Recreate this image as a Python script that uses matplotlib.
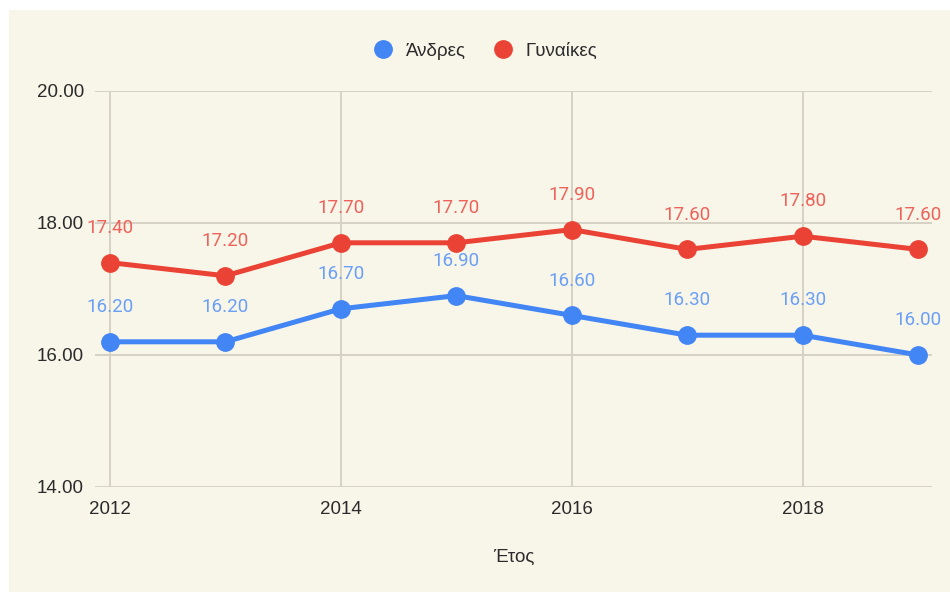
import matplotlib

matplotlib.use("Agg")
import matplotlib.pyplot as plt
from matplotlib.lines import Line2D
from matplotlib.patches import Rectangle

years = [2012, 2013, 2014, 2015, 2016, 2017, 2018, 2019]
men = [16.2, 16.2, 16.7, 16.9, 16.6, 16.3, 16.3, 16.0]
women = [17.4, 17.2, 17.7, 17.7, 17.9, 17.6, 17.8, 17.6]
series_names = ["Άνδρες", "Γυναίκες"]
x_ticks = [2012, 2014, 2016, 2018]
y_ticks = [14, 16, 18, 20]
x_title = "Έτος"

bg = "#f8f5e9"
blue, red = "#4285f4", "#ea4335"
blue_lbl, red_lbl = "#6a9ff6", "#ee625a"
grid_col = "#d6d2c6"
txt = "#2b2b2b"

plt.rcParams["font.family"] = ["Liberation Sans", "DejaVu Sans"]

fig = plt.figure(figsize=(9.5, 5.92), dpi=100, facecolor="white")
# cream panel with a thin white margin on the top and left
fig.patches.append(Rectangle((9 / 950, 0), 1, 1 - 10 / 592, transform=fig.transFigure,
                             facecolor=bg, edgecolor="none", zorder=-10))

ax = fig.add_axes([95 / 950, 1 - 487 / 592, (932 - 95) / 950, (487 - 91) / 592])
ax.set_facecolor(bg)

for vals, col, lcol in [(women, red, red_lbl), (men, blue, blue_lbl)]:
    ax.plot(years, vals, color=col, lw=3.6, marker="o", ms=12.5, zorder=3,
            solid_capstyle="round")
    for x, y in zip(years, vals):
        ax.annotate(f"{y:.2f}", (x, y), xytext=(0, 25), textcoords="offset points",
                    ha="center", va="center", color=lcol, fontsize=13.5,
                    family=["Roboto", "DejaVu Sans"])

ax.set_xlim(2011.87, 2019.12)
ax.set_ylim(14, 20)
ax.set_xticks(x_ticks)
ax.set_xticklabels([str(t) for t in x_ticks])
ax.set_yticks(y_ticks)
ax.set_yticklabels([f"{t:.2f}" for t in y_ticks])
ax.tick_params(length=0, labelsize=13.5, colors=txt, pad=8)
ax.tick_params(axis="x", pad=10)
ax.grid(True, color=grid_col, lw=1.4)
ax.set_axisbelow(True)
for s in ax.spines.values():
    s.set_visible(False)

ax.set_xlabel(x_title, fontsize=13.5, color=txt, labelpad=22)

handles = [Line2D([], [], ls="none", marker="o", ms=12.5, color=blue),
           Line2D([], [], ls="none", marker="o", ms=12.5, color=red)]
fig.legend(handles, series_names, loc="center", bbox_to_anchor=(481 / 950, 1 - 51 / 592),
           ncol=2, frameon=False, fontsize=13.5, handletextpad=0.2, columnspacing=1.0,
           labelcolor=txt)

fig.savefig("out.png", dpi=100, facecolor="white")
